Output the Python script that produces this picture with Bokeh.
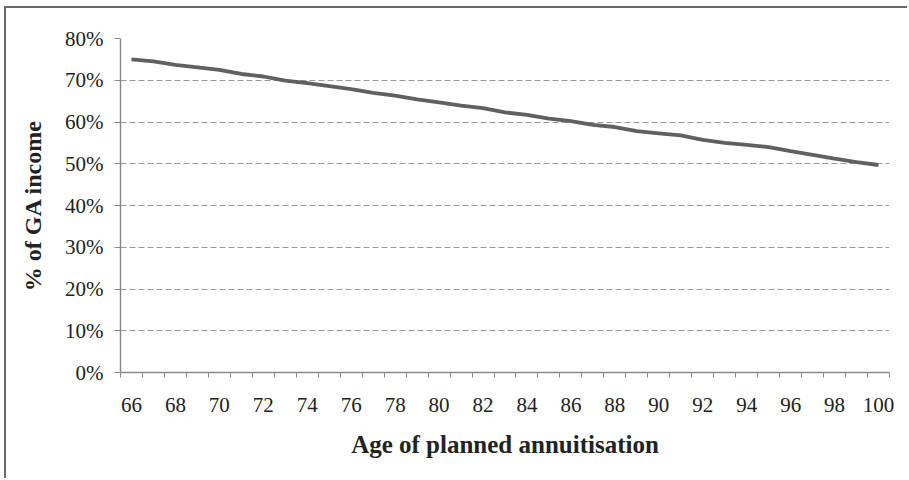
from bokeh.plotting import figure
from bokeh.layouts import column
from bokeh.models import Range1d, FixedTicker, PrintfTickFormatter
from bokeh.embed import file_html
from bokeh.resources import INLINE

ages = list(range(66, 101))
pct_ga_income = [75.0, 74.5, 73.7, 73.1, 72.5, 71.5, 70.9, 69.9, 69.3, 68.6,
                 67.9, 67.0, 66.3, 65.4, 64.7, 63.9, 63.3, 62.3, 61.7, 60.8,
                 60.2, 59.3, 58.8, 57.8, 57.3, 56.8, 55.7, 55.0, 54.5, 54.0,
                 53.0, 52.1, 51.2, 50.4, 49.7]
x_tick_labels = ages[::2]
y_ticks = [0, 10, 20, 30, 40, 50, 60, 70, 80]

p = figure(width=901, height=470, output_backend="svg", toolbar_location=None,
           x_range=Range1d(ages[0] - 0.5, ages[-1] + 0.5), y_range=Range1d(0, 80),
           min_border_left=114, min_border_right=18, min_border_top=30, min_border_bottom=106)
p.outline_line_color = None
p.background_fill_color = "white"
p.border_fill_color = "white"

p.line(ages, pct_ga_income, line_color="#606060", line_width=3.8)

serif = "Liberation Serif"
axis_col = "#8a8a8a"

# x axis
p.xaxis.ticker = FixedTicker(ticks=x_tick_labels, minor_ticks=[a - 0.5 for a in ages] + [ages[-1] + 0.5])
p.xaxis.major_tick_line_color = None
p.xaxis.major_tick_out = 0
p.xaxis.major_tick_in = 0
p.xaxis.minor_tick_line_color = axis_col
p.xaxis.minor_tick_out = 5
p.xaxis.minor_tick_in = 0
p.xaxis.axis_line_color = axis_col
p.xaxis.axis_line_width = 1.5
p.xaxis.major_label_text_font = serif
p.xaxis.major_label_text_font_size = "21px"
p.xaxis.major_label_text_color = "#222222"
p.xaxis.major_label_standoff = 20
p.xaxis.axis_label = "Age of planned annuitisation"
p.xaxis.axis_label_text_font = serif
p.xaxis.axis_label_text_font_size = "25px"
p.xaxis.axis_label_text_font_style = "bold"
p.xaxis.axis_label_text_color = "#222222"
p.xaxis.axis_label_standoff = 16

# y axis
p.yaxis.ticker = FixedTicker(ticks=y_ticks)
p.yaxis.formatter = PrintfTickFormatter(format="%d%%")
p.yaxis.major_tick_line_color = axis_col
p.yaxis.major_tick_out = 6
p.yaxis.major_tick_in = 0
p.yaxis.minor_tick_line_color = None
p.yaxis.axis_line_color = axis_col
p.yaxis.axis_line_width = 1.5
p.yaxis.major_label_text_font = serif
p.yaxis.major_label_text_font_size = "21px"
p.yaxis.major_label_text_color = "#222222"
p.yaxis.major_label_standoff = 11
p.yaxis.axis_label = "% of GA income"
p.yaxis.axis_label_text_font = serif
p.yaxis.axis_label_text_font_size = "24px"
p.yaxis.axis_label_text_font_style = "bold"
p.yaxis.axis_label_text_color = "#222222"
p.yaxis.axis_label_standoff = 16

p.xgrid.grid_line_color = None
p.ygrid.grid_line_color = "#9a9a9a"
p.ygrid.grid_line_dash = "6 3"
p.ygrid.grid_line_width = 1.2

layout = column(p, styles={"border-top": "2px solid #6a6a6a", "border-left": "2px solid #6a6a6a",
                           "margin-left": "4px", "margin-top": "6px"})

open("out.html", "w").write(file_html(layout, INLINE))
